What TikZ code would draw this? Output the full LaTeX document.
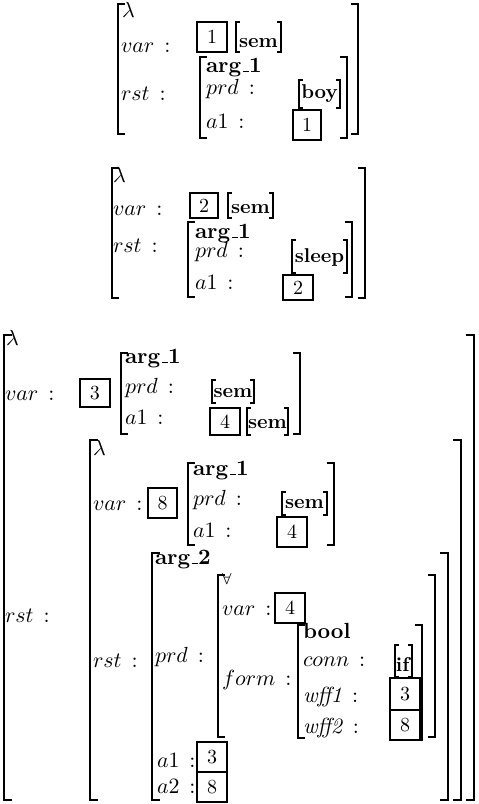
\documentclass[tikz,border=0pt]{standalone}
\tikzset{
  outerbr/.style={line width=1.4pt, line join=miter},
  innerbr/.style={line width=1.2pt, line join=miter},
  thinbr/.style={line width=0.7pt, line join=miter},
  numbox/.style={draw, line width=1pt},
  thickbox/.style={draw, line width=1.4pt},
  lab/.style={anchor=base west, inner sep=0pt, outer sep=0pt, font=\fontsize{10.95}{13}\selectfont},
  val/.style={anchor=base, inner sep=0pt},
}
\newcommand\avmUs{\kern.06em\rule{.3em}{.45pt}}
% left / right bracket: style, x, ytop, ybot, serif
\newcommand\avmLb[5]{\draw[#1] ({#2+#5},#3) -- (#2,#3) -- (#2,#4) -- ({#2+#5},#4);}
\newcommand\avmRb[5]{\draw[#1] ({#2-#5},#3) -- (#2,#3) -- (#2,#4) -- ({#2-#5},#4);}
% tag box: style, name, x1, y1, x2, y2, text
\newcommand\avmBox[7]{\draw[#1] (#3,#4) rectangle (#5,#6); \node[inner sep=0pt] (#2) at ({(#3+#5)/2},{(#4+#6)/2}) {#7};}
% atomic value in thin brackets: name, x1, x2, y1, y2, baseline, text
\newcommand\avmVal[7]{\avmLb{thinbr}{#2}{#4}{#5}{4}\avmRb{thinbr}{#3}{#4}{#5}{4}\node[val] (#1) at ({(#2+#3)/2},#6) {\textbf{#7}};}
% feature label: name, x, baseline, text
\newcommand\avmLab[4]{\node[lab] (#1) at (#2,#3) {#4\hspace{0.45em}:};}
\begin{document}
\begin{tikzpicture}[x=0.5pt,y=-0.5pt]
\useasboundingbox (0,0) rectangle (478,804);

% ===== Block 1 =====
\avmLb{outerbr}{118}{4}{134}{7}
\avmRb{outerbr}{358}{4}{134}{7}
\node[lab] (l1) at (122,17) {$\lambda$};
\avmLab{v1}{121}{52}{$var$}
\avmBox{thickbox}{t1}{197}{22}{227}{52}{1}
\avmVal{s1}{236}{281}{22}{52}{47}{sem}
\avmLab{r1}{121}{100}{$rst$}
\avmLb{innerbr}{200}{57}{138}{7}
\avmRb{innerbr}{347}{57}{138}{7}
\node[lab] (a1t) at (206,72) {\textbf{arg\avmUs1}};
\avmLab{p1}{206}{94}{$prd$}
\avmVal{boy}{299}{340}{80}{108}{98}{boy}
\avmLab{q1}{206}{128}{$a1$}
\avmBox{thickbox}{t1b}{293}{110}{321}{140}{1}

% ===== Block 2 =====
\avmLb{outerbr}{112}{168}{298}{7}
\avmRb{outerbr}{365}{168}{298}{7}
\node[lab] (l2) at (113,182) {$\lambda$};
\avmLab{v2}{113}{215}{$var$}
\avmBox{numbox}{t2}{190}{193}{218}{218}{2}
\avmVal{s2}{228}{273}{193}{218}{213}{sem}
\avmLab{r2}{113}{252}{$rst$}
\avmLb{innerbr}{188}{222}{297}{7}
\avmRb{innerbr}{352}{222}{297}{7}
\node[lab] (a2t) at (195,238) {\textbf{arg\avmUs1}};
\avmLab{p2}{195}{257}{$prd$}
\avmVal{sleep}{292}{347}{240}{273}{262}{sleep}
\avmLab{q2}{195}{289}{$a1$}
\avmBox{numbox}{t2b}{283}{275}{313}{300}{2}

% ===== Block 3 =====
\avmLb{outerbr}{4}{335}{800}{8}
\avmRb{outerbr}{474}{335}{800}{8}
\node[lab] (l3) at (6,345) {$\lambda$};
\avmLab{v3}{5}{400}{$var$}
\avmBox{numbox}{t3}{80}{379}{110}{407}{3}
\avmLb{innerbr}{121}{353}{434}{7}
\avmRb{innerbr}{300}{353}{434}{7}
\node[lab] (a3t) at (125,363) {\textbf{arg\avmUs1}};
\avmLab{p3}{125}{393}{$prd$}
\avmVal{s3}{212}{254}{380}{403}{397}{sem}
\avmLab{q3}{125}{424}{$a1$}
\avmBox{numbox}{t4}{210}{408}{240}{435}{4}
\avmVal{s4}{247}{288}{408}{435}{428}{sem}
\avmLab{r3}{5}{622}{$rst$}

% lambda 2
\avmLb{outerbr}{90}{440}{800}{8}
\avmRb{outerbr}{461}{440}{800}{8}
\node[lab] (l4) at (93,455) {$\lambda$};
\avmLab{v4}{93}{510}{$var$}
\avmBox{numbox}{t8}{148}{488}{177}{518}{8}
\avmLb{innerbr}{188}{463}{545}{7}
\avmRb{innerbr}{334}{463}{545}{7}
\node[lab] (a4t) at (193,475) {\textbf{arg\avmUs1}};
\avmLab{p4}{193}{505}{$prd$}
\avmVal{s5}{282}{327}{492}{515}{508}{sem}
\avmLab{q4}{193}{537}{$a1$}
\avmBox{numbox}{t4b}{277}{517}{307}{547}{4}
\avmLab{r4}{93}{667}{$rst$}

% arg_2
\avmLb{outerbr}{152}{553}{800}{8}
\avmRb{outerbr}{448}{553}{800}{8}
\node[lab] (a5t) at (155,564) {\textbf{arg\avmUs2}};
\avmLab{p5}{155}{662}{$prd$}

% forall
\avmLb{innerbr}{218}{575}{737}{7}
\avmRb{innerbr}{435}{575}{737}{7}
\node[lab] (fa) at (222,584) {$\scriptstyle\forall$};
\avmLab{v5}{222}{615}{$var$}
\avmBox{numbox}{t4c}{275}{593}{305}{623}{4}
\avmLab{f5}{222}{685}{$form$}

% bool
\avmLb{innerbr}{298}{625}{738}{7}
\avmRb{innerbr}{422}{625}{740}{7}
\node[lab] (bo) at (303,638) {\textbf{bool}};
\avmLab{cn}{303}{666}{$conn$}
\avmVal{if}{395}{412}{645}{677}{671}{if}
\avmLab{w1}{303}{702}{\textit{wff1}}
\avmBox{numbox}{t3b}{390}{678}{420}{710}{3}
\avmLab{w2}{303}{733}{\textit{wff2}}
\avmBox{numbox}{t8b}{390}{710}{420}{740}{8}

\avmLab{q5}{157}{767}{$a1$}
\avmBox{numbox}{t3c}{197}{742}{227}{772}{3}
\avmLab{q6}{157}{793}{$a2$}
\avmBox{numbox}{t8c}{197}{772}{227}{802}{8}
\end{tikzpicture}
\end{document}
